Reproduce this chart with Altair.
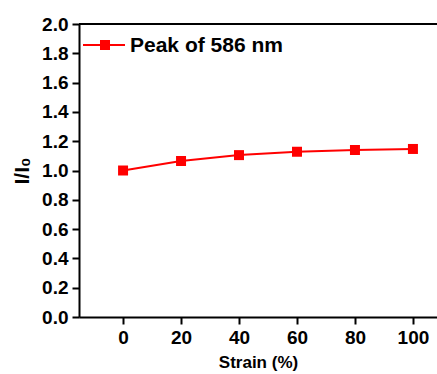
import altair as alt
import pandas as pd

# Normalised intensity of the 586 nm emission peak versus applied strain
strain = [0, 20, 40, 60, 80, 100]
intensity = [1.0, 1.065, 1.105, 1.128, 1.14, 1.147]
series_name = "Peak of 586 nm"

y_ticks = [0.0, 0.2, 0.4, 0.6, 0.8, 1.0, 1.2, 1.4, 1.6, 1.8, 2.0]
x_ticks = [0, 20, 40, 60, 80, 100]

df = pd.DataFrame({"strain": strain, "ratio": intensity})

RED = "#ff0000"
FONT = "Liberation Sans"

x_scale = alt.Scale(domain=[-15.2, 108.3], nice=False, zero=False)
y_scale = alt.Scale(domain=[0, 2.0], nice=False)

x_axis = alt.Axis(
    values=x_ticks, title="Strain (%)", format="d", labelOverlap=False,
    labelFontSize=19, labelFontWeight="bold", labelFont=FONT, labelColor="black",
    titleFontSize=17, titleFontWeight="bold", titleFont=FONT, titleColor="black",
    titlePadding=7, labelPadding=4, tickSize=7, tickWidth=2, tickColor="black",
    domainColor="black", domainWidth=2, grid=False,
)
y_axis = alt.Axis(
    values=y_ticks, title="I/I₀", format=".1f", labelOverlap=False,
    labelFontSize=19, labelFontWeight="bold", labelFont=FONT, labelColor="black",
    titleFontSize=21, titleFontWeight="bold", titleFont=FONT, titleColor="black",
    titlePadding=9, labelPadding=4, tickSize=7, tickWidth=2, tickColor="black",
    domainColor="black", domainWidth=2, grid=False,
)

x_enc = alt.X("strain:Q", scale=x_scale, axis=x_axis)
y_enc = alt.Y("ratio:Q", scale=y_scale, axis=y_axis)

base = alt.Chart(df)

line = base.mark_line(color=RED, strokeWidth=2).encode(x=x_enc, y=y_enc)
points = base.mark_square(color=RED, size=100, opacity=1).encode(x=x_enc, y=y_enc)

# Top frame line
top = alt.Chart(pd.DataFrame({"ratio": [2.0]})).mark_rule(color="black", strokeWidth=2).encode(
    y=y_enc, x=alt.value(0), x2=alt.value(360)
)

# Legend entry drawn inside the plot area
legend_df = pd.DataFrame({"label": [series_name]})
leg_line = alt.Chart(legend_df).mark_rule(color=RED, strokeWidth=2).encode(
    x=alt.value(4), x2=alt.value(46), y=alt.value(21)
)
leg_sym = alt.Chart(legend_df).mark_square(color=RED, size=100, opacity=1).encode(
    x=alt.value(26), y=alt.value(21)
)
leg_text = alt.Chart(legend_df).mark_text(
    align="left", baseline="middle", fontSize=21, fontWeight="bold", font=FONT, color="black"
).encode(x=alt.value(51), y=alt.value(22), text="label:N")

chart = (
    alt.layer(line, points, top, leg_line, leg_sym, leg_text)
    .properties(
        width=358, height=293,
        autosize=alt.AutoSizeParams(type="none"),
        padding={"left": 79, "top": 24, "right": 0, "bottom": 57},
    )
    .configure_view(stroke=None)
    .configure(background="white")
)

chart.save("out.html", embed_options={"renderer": "svg", "actions": False})
